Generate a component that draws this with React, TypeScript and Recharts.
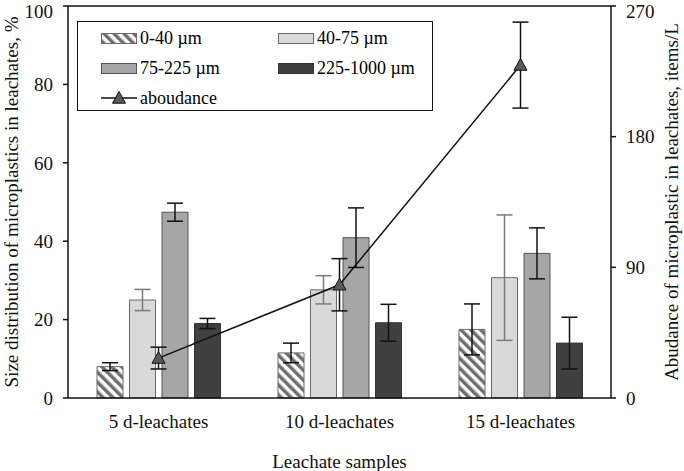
import { Bar, ComposedChart, ErrorBar, Line, ReferenceLine, XAxis, YAxis } from 'recharts';

const samples = ['5 d-leachates', '10 d-leachates', '15 d-leachates'];

const size0to40 = [8, 11.5, 17.5];
const size0to40Err = [1, 2.5, 6.5];
const size40to75 = [25, 27.6, 30.7];
const size40to75Err = [2.7, 3.6, 16];
const size75to225 = [47.4, 40.9, 36.9];
const size75to225Err = [2.3, 7.6, 6.5];
const size225to1000 = [19, 19.2, 14];
const size225to1000Err = [1.3, 4.7, 6.6];

const abundance = [27.5, 78, 229.3];
const abundanceErr = [7.5, 18, 29.6];

const leftTicks = [0, 20, 40, 60, 80, 100];
const rightTicks = [0, 90, 180, 270];

const data = samples.map((name, i) => ({
    name,
    s1: size0to40[i],
    s1e: size0to40Err[i],
    s2: size40to75[i],
    s2e: size40to75Err[i],
    s3: size75to225[i],
    s3e: size75to225Err[i],
    s4: size225to1000[i],
    s4e: size225to1000Err[i],
    ab: abundance[i],
    abe: abundanceErr[i],
}));

const bars = [
    { key: 's1', name: '0-40 µm', fill: 'url(#hatch)', stroke: '#6a6a6a', err: '#111' },
    { key: 's2', name: '40-75 µm', fill: '#d9d9d9', stroke: '#6a6a6a', err: '#7a7a7a' },
    { key: 's3', name: '75-225 µm', fill: '#a6a6a6', stroke: '#555', err: '#111' },
    { key: 's4', name: '225-1000 µm', fill: '#404040', stroke: '#333', err: '#111' },
];

const font = "'Liberation Serif', 'Tinos', 'DejaVu Serif', 'Noto Serif', serif";

function Triangle({ cx, cy }: { cx: number; cy: number }) {
    const s = 6.5;
    return (
        <polygon
            points={`${cx},${cy - s} ${cx + s},${cy + s * 0.8} ${cx - s},${cy + s * 0.8}`}
            fill="#5a5a5a"
            stroke="#111"
            strokeWidth={1}
        />
    );
}

function HatchPattern({ id }: { id: string }) {
    return (
        <pattern id={id} patternUnits="userSpaceOnUse" width={7} height={7} patternTransform="rotate(-45)">
            <rect width={7} height={7} fill="#fff" />
            <rect width={3.5} height={7} fill="#6e6e6e" />
        </pattern>
    );
}

function Swatch({ fill, stroke }: { fill: string; stroke: string }) {
    return (
        <svg width={36} height={11} style={{ display: 'block' }}>
            <defs>
                <HatchPattern id="hatchLegend" />
            </defs>
            <rect
                x={0.5}
                y={0.5}
                width={35}
                height={10}
                fill={fill === 'url(#hatch)' ? 'url(#hatchLegend)' : fill}
                stroke={stroke}
            />
        </svg>
    );
}

function LegendBox() {
    const item = (content: React.ReactNode, label: string, left: number, top: number) => (
        <div key={label} style={{ position: 'absolute', left, top, display: 'flex', alignItems: 'center', height: 20 }}>
            {content}
            <span style={{ marginLeft: 3, fontSize: 18, lineHeight: '20px' }}>{label}</span>
        </div>
    );
    return (
        <div
            style={{
                position: 'absolute',
                left: 77,
                top: 21,
                width: 354,
                height: 88,
                border: '1.5px solid #111',
                background: '#fff',
                fontFamily: font,
            }}
        >
            {bars.map((b, i) =>
                item(<Swatch fill={b.fill} stroke={b.stroke} />, b.name, i % 2 === 0 ? 23 : 200, 6 + Math.floor(i / 2) * 30),
            )}
            {item(
                <svg width={36} height={14} style={{ display: 'block' }}>
                    <line x1={0} y1={7} x2={36} y2={7} stroke="#111" strokeWidth={1.5} />
                    <Triangle cx={18} cy={7} />
                </svg>,
                'aboudance',
                23,
                66,
            )}
        </div>
    );
}

export default function App() {
    return (
        <div style={{ position: 'absolute', left: 0, top: 0, width: 684, height: 471, fontFamily: font, background: '#fff' }}>
            <ComposedChart
                width={684}
                height={471}
                data={data}
                margin={{ top: 6, right: 0, bottom: 0, left: 0 }}
                barGap={6.5}
                style={{ fontFamily: font }}
            >
                <defs>
                    <HatchPattern id="hatch" />
                </defs>
                <XAxis
                    dataKey="name"
                    height={73}
                    tickLine={false}
                    tickSize={0}
                    tickMargin={17}
                    axisLine={{ stroke: '#111', strokeWidth: 1.5 }}
                    tick={{ fill: '#111', fontSize: 19 }}
                    label={{ value: 'Leachate samples', position: 'insideBottom', offset: 3, fill: '#111', fontSize: 19 }}
                />
                <YAxis
                    yAxisId="left"
                    domain={[0, 100]}
                    ticks={leftTicks}
                    width={68}
                    tickSize={5}
                    tickMargin={10}
                    axisLine={{ stroke: '#111', strokeWidth: 1.5 }}
                    tickLine={{ stroke: '#111', strokeWidth: 1.5 }}
                    tick={{ fill: '#111', fontSize: 19 }}
                    label={{
                        value: 'Size distribution of microplastics in leachates, %',
                        angle: -90,
                        position: 'insideLeft',
                        offset: 11,
                        style: { textAnchor: 'middle' },
                        fill: '#111',
                        fontSize: 19,
                    }}
                />
                <YAxis
                    yAxisId="right"
                    orientation="right"
                    domain={[0, 270]}
                    ticks={rightTicks}
                    width={73}
                    tickSize={5}
                    tickMargin={10}
                    axisLine={{ stroke: '#111', strokeWidth: 1.5 }}
                    tickLine={{ stroke: '#111', strokeWidth: 1.5 }}
                    tick={{ fill: '#111', fontSize: 19 }}
                    label={{
                        value: 'Abudance of microplastic in leachates, items/L',
                        angle: -90,
                        position: 'insideRight',
                        offset: 13,
                        style: { textAnchor: 'middle' },
                        fill: '#111',
                        fontSize: 19,
                    }}
                />
                <ReferenceLine yAxisId="left" y={100} stroke="#111" strokeWidth={1.5} />
                {bars.map((b) => (
                    <Bar
                        key={b.key}
                        yAxisId="left"
                        dataKey={b.key}
                        name={b.name}
                        fill={b.fill}
                        stroke={b.stroke}
                        strokeWidth={1}
                        barSize={26}
                        isAnimationActive={false}
                    >
                        <ErrorBar dataKey={`${b.key}e`} width={8} stroke={b.err} strokeWidth={1.5} direction="y" />
                    </Bar>
                ))}
                <Line
                    yAxisId="right"
                    dataKey="ab"
                    name="aboudance"
                    stroke="#111"
                    strokeWidth={1.5}
                    dot={(p: any) => <Triangle key={p.index} cx={p.cx} cy={p.cy} />}
                    activeDot={false}
                    isAnimationActive={false}
                >
                    <ErrorBar dataKey="abe" width={8} stroke="#111" strokeWidth={1.5} direction="y" />
                </Line>
            </ComposedChart>
            <LegendBox />
        </div>
    );
}
